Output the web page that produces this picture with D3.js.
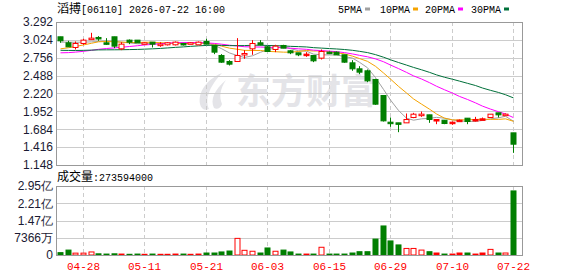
<!DOCTYPE html>
<html>
<head>
<meta charset="utf-8">
<script src="https://cdn.jsdelivr.net/npm/d3@7"></script>
<style>
  body { margin: 0; background: #fff; }
  svg { display: block; }
  text { font-family: "Liberation Sans", Arial, sans-serif; }
</style>
</head>
<body>
<svg width="578" height="276"></svg>
<script>
// daily candles, oldest first
const dates = ["04-23","04-24","04-27","04-28","04-29","04-30","05-04","05-05","05-06","05-07",
  "05-08","05-11","05-12","05-13","05-14","05-15","05-18","05-19","05-20","05-21",
  "05-22","05-26","05-27","05-28","05-29","06-01","06-02","06-03","06-04","06-05",
  "06-08","06-09","06-10","06-11","06-12","06-15","06-16","06-17","06-18","06-22",
  "06-23","06-24","06-26","06-29","06-30","07-02","07-03","07-06","07-07","07-08",
  "07-09","07-10","07-13","07-14","07-15","07-16","07-17","07-20","07-21","07-22"];
const open  = [3.07,2.98,2.91,2.97,3.04,3.06,2.98,3.07,2.89,3.02, 3.02,2.97,2.99,2.94,2.95,2.95,2.97,2.97,2.95,3.00,
  2.94,2.79,2.70,2.70,2.81,2.89,2.98,2.92,2.88,2.94, 2.86,2.83,2.81,2.79,2.75,2.84,2.84,2.80,2.68,2.59,
  2.56,2.43,2.19,1.79,1.78,1.78,1.86,1.90,1.90,1.83, 1.82,1.79,1.82,1.85,1.83,1.84,1.86,1.93,1.90,1.63];
const high  = [3.07,3.01,3.00,3.04,3.13,3.08,3.05,3.07,2.99,3.03, 3.02,2.99,2.99,2.99,2.99,3.00,2.98,2.99,3.00,3.04,
  2.94,2.81,2.72,3.05,2.87,3.02,3.02,2.93,2.95,2.95, 2.87,2.83,2.84,2.79,2.88,2.85,2.85,2.80,2.72,2.63,
  2.58,2.44,2.19,1.86,1.78,1.92,1.93,1.95,1.90,1.83, 1.82,1.80,1.83,1.85,1.87,1.86,1.91,1.93,1.92,1.63];
const low   = [2.98,2.92,2.88,2.95,3.03,3.01,2.95,2.90,2.87,2.96, 2.98,2.96,2.91,2.92,2.94,2.94,2.94,2.96,2.95,2.96,
  2.81,2.68,2.64,2.70,2.74,2.80,2.94,2.85,2.84,2.90, 2.81,2.78,2.77,2.69,2.73,2.81,2.80,2.68,2.56,2.51,
  2.39,2.05,1.80,1.72,1.64,1.78,1.85,1.87,1.78,1.76, 1.76,1.75,1.81,1.76,1.80,1.84,1.86,1.86,1.89,1.33];
const close = [3.01,2.92,2.97,3.02,3.05,3.04,2.97,2.93,2.96,2.99, 2.98,2.98,2.96,2.96,2.98,2.99,2.95,2.98,2.99,2.96,
  2.84,2.69,2.66,2.79,2.82,2.97,2.95,2.85,2.93,2.90, 2.83,2.80,2.81,2.71,2.85,2.82,2.80,2.69,2.59,2.54,
  2.41,2.06,1.81,1.79,1.76,1.83,1.91,1.91,1.83,1.83, 1.77,1.79,1.82,1.80,1.83,1.84,1.91,1.90,1.91,1.46];
const volume = [10e6,21e6,8e6,8e6,13e6,5e6,4e6,5e6,4e6,3e6, 4e6,3e6,4e6,3e6,3e6,4e6,4e6,3e6,4e6,8.5e6,
  8.5e6,13e6,17e6,71e6,20e6,16e6,8.5e6,30e6,16e6,21e6, 13e6,4e6,4e6,4e6,33e6,4e6,4e6,4e6,8.5e6,14e6,
  14e6,68e6,124e6,60e6,43e6,28e6,28e6,21e6,14e6,8.5e6, 4e6,4e6,8.5e6,8.5e6,4e6,8.5e6,24e6,8.5e6,8.5e6,273594000];
// closes of the 29 sessions before the window, needed for the moving averages
const priorClose = [2.98,2.99,2.96,2.94,2.95,2.93,2.92,2.93,2.92,2.91,
  2.86,2.82,2.78,2.75,2.74,2.73,2.75,2.76,2.77,2.74,
  2.76,2.78,2.79,2.80,2.82,2.92,2.98,3.01,3.03];

const priceTicks = [1.148,1.416,1.684,1.952,2.220,2.488,2.756,3.024,3.292];
const volTicks = [0,73660000,147320000,220980000,294640000];
const volTickLabels = ["0","7366万","1.47亿","2.21亿","2.95亿"];
const maPeriods = [5,10,20,30];
const maColors = ["#a0a0a0","#f5a300","#ff00ff","#00703a"];
const labelEvery = 8, labelStart = 3;

const title = "滔搏[06110] 2026-07-22 16:00";
const volTitle = "成交量:273594000";

const W = 578, H = 276;
const plotL = 56, plotR = 522;
const priceTop = 22, priceBot = 165;
const volTop = 186, volBot = 255;
const RED = "#ff0000", GREEN = "#007f00";

var svg = d3.select("svg");

var x = d3.scaleBand().domain(d3.range(dates.length)).range([plotL, 517]);
var cx = i => Math.round(x(i) + x.bandwidth() / 2) + 0.5;
var y = d3.scaleLinear().domain([1.148, 3.292]).range([priceBot, priceTop]);
var yv = d3.scaleLinear().domain([0, 294640000]).range([volBot, volTop]);

function candleColor(i) {
  if (close[i] > open[i]) return RED;
  if (close[i] < open[i]) return GREEN;
  var prev = i > 0 ? close[i - 1] : priorClose[priorClose.length - 1];
  return close[i] >= prev ? RED : GREEN;
}

// header texts
function mixedText(sel, str, px, py) {
  var t = sel.append("text").attr("x", px).attr("y", py).attr("fill", "#000");
  var parts = str.match(/[\u4e00-\u9fff]+|[^\u4e00-\u9fff]+/g);
  parts.forEach(p => {
    var cjk = /[\u4e00-\u9fff]/.test(p);
    t.append("tspan")
      .style("font-family", cjk ? "'Noto Sans CJK SC'" : "'Liberation Mono', monospace")
      .style("font-size", cjk ? "12px" : "10px")
      .text(p);
  });
}
mixedText(svg, title, 57, 13);
mixedText(svg, volTitle, 57, 181);

// legend
var legX = [338, 380, 425, 471];
maPeriods.forEach((p, k) => {
  var t = svg.append("text").attr("x", legX[k]).attr("y", 13)
    .style("font-family", "'Liberation Mono', monospace").style("font-size", "10px")
    .attr("fill", "#000").text(p + "PMA");
  var tw = t.node().getComputedTextLength();
  svg.append("rect").attr("x", legX[k] + tw + 3).attr("y", 7.5).attr("width", 5).attr("height", 3)
    .attr("fill", maColors[k]);
});

// watermark
var wm = svg.append("g").attr("fill", "#e4e4e8");
wm.append("path")
  .attr("d", "M222,73 C206,80 198,92 200,104 C201,109 205,111 209,109 C205,100 208,88 222,73 Z M226,80 C214,90 210,100 214,108 C217,110 221,108 222,104 C219,97 220,89 226,80 Z");
wm.append("text").attr("x", 236).attr("y", 104)
  .style("font-family", "'Noto Sans CJK SC'").style("font-size", "35px").style("font-weight", "bold")
  .text("东方财富");

// grid
var grid = svg.append("g").attr("stroke", "#cccccc").attr("stroke-width", 1);
grid.selectAll(".hp").data(priceTicks).enter().append("line")
  .attr("x1", plotL).attr("x2", plotR)
  .attr("y1", d => Math.round(y(d)) + 0.5).attr("y2", d => Math.round(y(d)) + 0.5);
grid.selectAll(".hv").data(volTicks).enter().append("line")
  .attr("x1", plotL).attr("x2", plotR)
  .attr("y1", d => Math.round(yv(d)) + 0.5).attr("y2", d => Math.round(yv(d)) + 0.5);
var labelIdx = d3.range(labelStart, dates.length, labelEvery);
[[priceTop, priceBot], [volTop, volBot]].forEach(r => {
  grid.selectAll(null).data(labelIdx).enter().append("line")
    .attr("x1", cx).attr("x2", cx).attr("y1", r[0]).attr("y2", r[1])
    .attr("stroke-dasharray", "4,3");
});

// y axes
var yAxis = d3.axisLeft(y).tickValues(priceTicks).tickSize(0).tickPadding(3).tickFormat(d3.format(".3f"));
var ga = svg.append("g").attr("transform", "translate(" + plotL + ",0)").call(yAxis);
ga.select(".domain").remove();
ga.selectAll("text").attr("fill", "#1a1a33").style("font-size", "12px").style("font-family", "'Liberation Sans', Arial");

var vAxis = d3.axisLeft(yv).tickValues(volTicks).tickSize(0).tickPadding(3)
  .tickFormat((d, k) => volTickLabels[k]);
var gv = svg.append("g").attr("transform", "translate(" + plotL + ",0)").call(vAxis);
gv.select(".domain").remove();
gv.selectAll("text").attr("fill", "#1a1a33").style("font-size", "12px").style("font-family", "'Liberation Sans', Arial");

// x labels
svg.selectAll(".xl").data(labelIdx).enter().append("text")
  .attr("x", cx).attr("y", 270).attr("text-anchor", "middle")
  .style("font-family", "'Liberation Mono', monospace").style("font-size", "11px")
  .attr("fill", RED).text(i => dates[i]);

// moving averages
var allClose = priorClose.concat(close);
maPeriods.forEach((p, k) => {
  var vals = close.map((c, i) => d3.mean(allClose.slice(i + priorClose.length - p + 1, i + priorClose.length + 1)));
  svg.append("path").datum(vals)
    .attr("fill", "none").attr("stroke", maColors[k]).attr("stroke-width", 1)
    .attr("d", d3.line().x((d, i) => cx(i)).y(d => y(d)));
});

// candles
var bw = 5;
var cg = svg.selectAll(".candle").data(d3.range(dates.length)).enter().append("g");
cg.append("line")
  .attr("x1", cx).attr("x2", cx)
  .attr("y1", i => y(high[i])).attr("y2", i => y(low[i]))
  .attr("stroke", candleColor);
cg.append("rect")
  .attr("x", i => cx(i) - bw / 2).attr("width", bw)
  .attr("y", i => Math.min(y(open[i]), y(close[i])))
  .attr("height", i => Math.max(1.5, Math.abs(y(open[i]) - y(close[i]))))
  .attr("fill", i => close[i] > open[i] ? "#fff" : candleColor(i))
  .attr("stroke", candleColor);

// volume bars
svg.selectAll(".vol").data(d3.range(dates.length)).enter().append("rect")
  .attr("x", i => cx(i) - bw / 2).attr("width", bw)
  .attr("y", i => yv(volume[i]))
  .attr("height", i => volBot - yv(volume[i]))
  .attr("fill", i => close[i] > open[i] ? "#fff" : candleColor(i))
  .attr("stroke", candleColor);

// frames
[[priceTop, priceBot], [volTop, volBot]].forEach(r => {
  svg.append("rect").attr("x", plotL + 0.5).attr("y", r[0] + 0.5)
    .attr("width", plotR - plotL).attr("height", r[1] - r[0])
    .attr("fill", "none").attr("stroke", "#999");
});
</script>
</body>
</html>
